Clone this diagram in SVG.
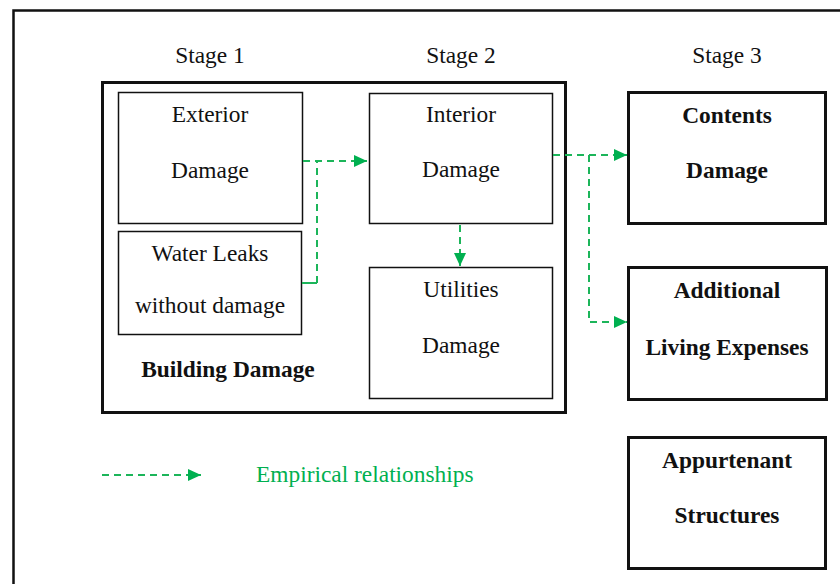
<svg xmlns="http://www.w3.org/2000/svg" width="840" height="584" viewBox="0 0 840 584">
<style>
  text { font-family: "Liberation Serif", "Times New Roman", serif; font-size: 23.4px; fill: #111; text-anchor: middle; }
  .b { font-weight: bold; }
  .thin { fill: #fff; stroke: #111; stroke-width: 1.5; }
  .thick { fill: #fff; stroke: #111; stroke-width: 3; }
  .conn { fill: none; stroke: #1cb55a; stroke-width: 2; stroke-dasharray: 7 5; }
  .solid { fill: none; stroke: #1cb55a; stroke-width: 2; }
  .legend { fill: #00b050; text-anchor: start; }
</style>
<defs>
  <marker id="arr" viewBox="0 0 13 12" refX="13" refY="6" markerWidth="13" markerHeight="12" markerUnits="userSpaceOnUse" orient="auto">
    <path d="M0,0 L13,6 L0,12 Z" fill="#00b050"/>
  </marker>
</defs>
<rect x="0" y="0" width="840" height="584" fill="#fff"/>
<rect x="13.5" y="10.5" width="840" height="600" fill="none" stroke="#111" stroke-width="2.5"/>

<text x="210" y="63">Stage 1</text>
<text x="461" y="63">Stage 2</text>
<text x="727" y="63">Stage 3</text>

<g id="building-damage">
  <rect class="thick" x="102.5" y="82.5" width="463" height="330"/>
  <text class="b" x="228" y="377">Building Damage</text>
</g>
<g id="exterior">
  <rect class="thin" x="118.5" y="92.5" width="184" height="131"/>
  <text x="210" y="122">Exterior</text>
  <text x="210" y="178">Damage</text>
</g>
<g id="water-leaks">
  <rect class="thin" x="118.5" y="231.5" width="183" height="103"/>
  <text x="210" y="261">Water Leaks</text>
  <text x="210" y="313">without damage</text>
</g>
<g id="interior">
  <rect class="thin" x="369.5" y="93.5" width="183" height="130"/>
  <text x="461" y="122">Interior</text>
  <text x="461" y="177">Damage</text>
</g>
<g id="utilities">
  <rect class="thin" x="369.5" y="267.5" width="183" height="131"/>
  <text x="461" y="297">Utilities</text>
  <text x="461" y="353">Damage</text>
</g>
<g id="contents">
  <rect class="thick" x="628.5" y="92.5" width="197" height="131"/>
  <text class="b" x="727" y="123">Contents</text>
  <text class="b" x="727" y="178">Damage</text>
</g>
<g id="additional">
  <rect class="thick" x="628.5" y="267.5" width="198" height="132"/>
  <text class="b" x="727" y="298">Additional</text>
  <text class="b" x="727" y="355">Living Expenses</text>
</g>
<g id="appurtenant">
  <rect class="thick" x="628.5" y="437.5" width="197" height="131"/>
  <text class="b" x="727" y="468">Appurtenant</text>
  <text class="b" x="727" y="523">Structures</text>
</g>

<g id="connectors">
  <path class="conn" d="M303,161 H367" marker-end="url(#arr)"/>
  <path class="solid" d="M302,283 H317"/>
  <path class="conn" d="M317,283 V161"/>
  <path class="conn" d="M460,225 V266" marker-end="url(#arr)"/>
  <path class="conn" d="M553,155 H627" marker-end="url(#arr)"/>
  <path class="conn" d="M589,155 V322 H627" marker-end="url(#arr)"/>
  <path class="conn" d="M102,475 H201" marker-end="url(#arr)"/>
</g>
<text class="legend" x="256" y="482">Empirical relationships</text>
</svg>
